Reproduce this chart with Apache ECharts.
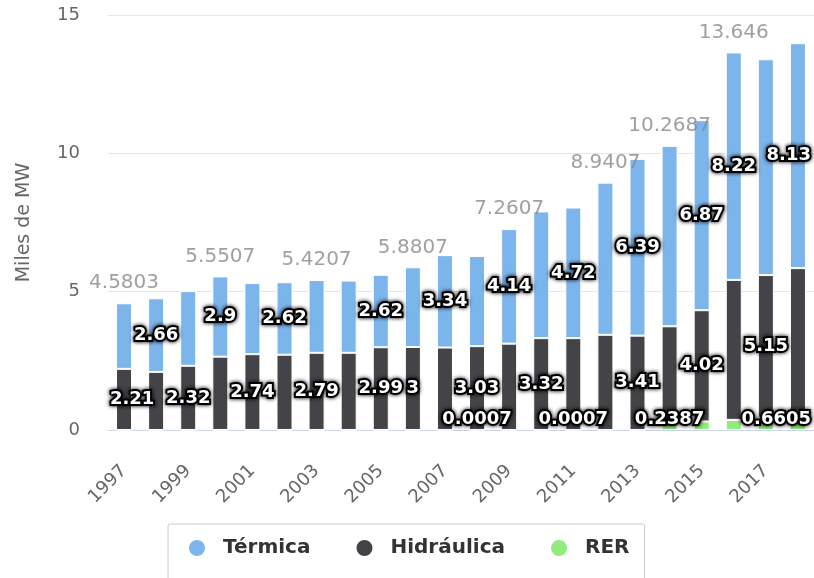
<!DOCTYPE html>
<html><head><meta charset="utf-8">
<script src="https://cdn.jsdelivr.net/npm/echarts@6/dist/echarts.min.js"></script>
<style>html,body{margin:0;padding:0;background:#fff}#c{width:814px;height:578px}</style>
</head><body><div id="c"></div>
<script>
const years = ['1997','1998','1999','2000','2001','2002','2003','2004','2005','2006','2007','2008','2009','2010','2011','2012','2013','2014','2015','2016','2017','2018'];
const termica    = [2.37, 2.66, 2.70, 2.90, 2.57, 2.62, 2.63, 2.61, 2.62, 2.88, 3.34, 3.26, 4.14, 4.58, 4.72, 5.50, 6.39, 6.52, 6.87, 8.22, 7.80, 8.13];
const hidraulica = [2.21, 2.10, 2.32, 2.65, 2.74, 2.72, 2.79, 2.79, 2.99, 3.00, 2.98, 3.03, 3.12, 3.32, 3.32, 3.44, 3.41, 3.51, 4.02, 5.06, 5.15, 5.19];
const rer        = [0.0003, 0.0003, 0.0007, 0.0007, 0.0007, 0.0007, 0.0007, 0.0007, 0.0007, 0.0007, 0.0007, 0.0007, 0.0007, 0.0007, 0.0007, 0.0007, 0.0007, 0.2387, 0.31, 0.366, 0.45, 0.6605];
// which labels are visible in the reference
const termicaLabelYears    = ['1998','2000','2002','2005','2007','2009','2011','2013','2015','2016','2018'];
const hidraulicaLabelYears = ['1997','1999','2001','2003','2005','2006','2008','2010','2013','2015','2017'];
const rerLabelYears        = ['2008','2011','2014','2018'];
const totalLabelYears      = ['1997','2000','2003','2006','2009','2012','2014','2016'];
const yTicks = [0, 5, 10, 15];

const FONT = 'DejaVu Sans';
const totals = years.map((y, i) => parseFloat((termica[i] + hidraulica[i] + rer[i]).toFixed(4)));
const fmt = v => String(parseFloat(Number(v).toFixed(4)));

const chart = echarts.init(document.getElementById('c'), null, {renderer: 'canvas'});

const dataLabel = {
  show: false,
  color: '#fff',
  fontFamily: FONT,
  fontSize: 18,
  fontWeight: 'bold',
  textBorderColor: '#000',
  textBorderWidth: 4,
  textShadowColor: 'rgba(0,0,0,0.9)',
  textShadowBlur: 4,
  formatter: p => fmt(p.value)
};

function buildData(values, showYears, offsets, extra) {
  return values.map((v, i) => {
    const show = showYears.indexOf(years[i]) >= 0;
    const item = {value: v};
    if (show) {
      item.label = Object.assign({show: true}, extra || {});
      if (offsets && offsets[i]) item.label.offset = [offsets[i], 0];
    }
    return item;
  });
}

function makeOption(offT, offH, offR) {
  return {
    animation: false,
    backgroundColor: '#fff',
    textStyle: {fontFamily: FONT},
    grid: {left: 108, top: 15, width: 710, height: 415, containLabel: false},
    legend: {
      data: ['Térmica', 'Hidráulica', 'RER'],
      left: 168, top: 524,
      padding: [14, 15, 30, 19],
      borderColor: '#cccccc', borderWidth: 1, borderRadius: 2,
      icon: 'circle', itemWidth: 18, itemHeight: 18, itemGap: 44,
      textStyle: {fontFamily: FONT, fontSize: 20, fontWeight: 'bold', color: '#333', padding: [0, 0, 0, 12]}
    },
    xAxis: {
      type: 'category', data: years,
      axisLine: {lineStyle: {color: '#ccd6eb'}},
      axisTick: {alignWithLabel: true, interval: 1, length: 26, lineStyle: {color: '#ccd6eb'}},
      axisLabel: {interval: 1, rotate: 45, color: '#666', fontSize: 18, fontFamily: FONT, margin: 38}
    },
    yAxis: {
      type: 'value', min: yTicks[0], max: yTicks[yTicks.length - 1], interval: yTicks[1] - yTicks[0],
      name: 'Miles de MW', nameLocation: 'middle', nameGap: 74, nameRotate: 90,
      nameTextStyle: {color: '#666', fontSize: 19, fontFamily: FONT},
      axisLine: {show: false}, axisTick: {show: false},
      axisLabel: {color: '#666', fontSize: 18, fontFamily: FONT, margin: 28},
      splitLine: {lineStyle: {color: '#e6e6e6'}}
    },
    series: [
      {name: 'RER', type: 'bar', stack: 'cap', barWidth: 16, z: 5,
       itemStyle: {color: '#90ed7d', borderColor: '#fff', borderWidth: 1},
       label: Object.assign({}, dataLabel, {position: 'insideBottom', distance: 2}),
       data: buildData(rer, rerLabelYears, offR)},
      {name: 'Hidráulica', type: 'bar', stack: 'cap', barWidth: 16, z: 4,
       itemStyle: {color: '#434348', borderColor: '#fff', borderWidth: 1},
       label: Object.assign({}, dataLabel, {position: 'inside'}),
       data: buildData(hidraulica, hidraulicaLabelYears, offH)},
      {name: 'Térmica', type: 'bar', stack: 'cap', barWidth: 16, z: 3,
       itemStyle: {color: '#7cb5ec', borderColor: '#fff', borderWidth: 1},
       label: Object.assign({}, dataLabel, {position: 'inside'}),
       data: buildData(termica, termicaLabelYears, offT)},
      {name: 'Total', type: 'scatter', symbolSize: 0, silent: true, z: 6,
       label: {show: false, position: 'top', distance: 10, color: '#888888', fontSize: 20, fontFamily: FONT,
               formatter: p => fmt(p.value)},
       data: buildData(totals, totalLabelYears, null)}
    ]
  };
}

chart.setOption(makeOption(null, null, null));

// emulate label justification inside the plot area (shift labels that overflow the edges)
const ctx = document.createElement('canvas').getContext('2d');
ctx.font = 'bold 18px ' + FONT;
const plotLeft = chart.convertToPixel({xAxisIndex: 0}, years[0]) - 710 / 22 / 2;
const plotRight = 813;
function offsets(values, showYears) {
  return values.map((v, i) => {
    if (showYears.indexOf(years[i]) < 0) return 0;
    const w = ctx.measureText(fmt(v)).width + 4;
    const cx = chart.convertToPixel({xAxisIndex: 0}, years[i]);
    if (cx - w / 2 < plotLeft) return plotLeft - (cx - w / 2);
    if (cx + w / 2 > plotRight) return plotRight - (cx + w / 2);
    return 0;
  });
}
chart.setOption(makeOption(offsets(termica, termicaLabelYears), offsets(hidraulica, hidraulicaLabelYears), offsets(rer, rerLabelYears)), true);
</script></body></html>
